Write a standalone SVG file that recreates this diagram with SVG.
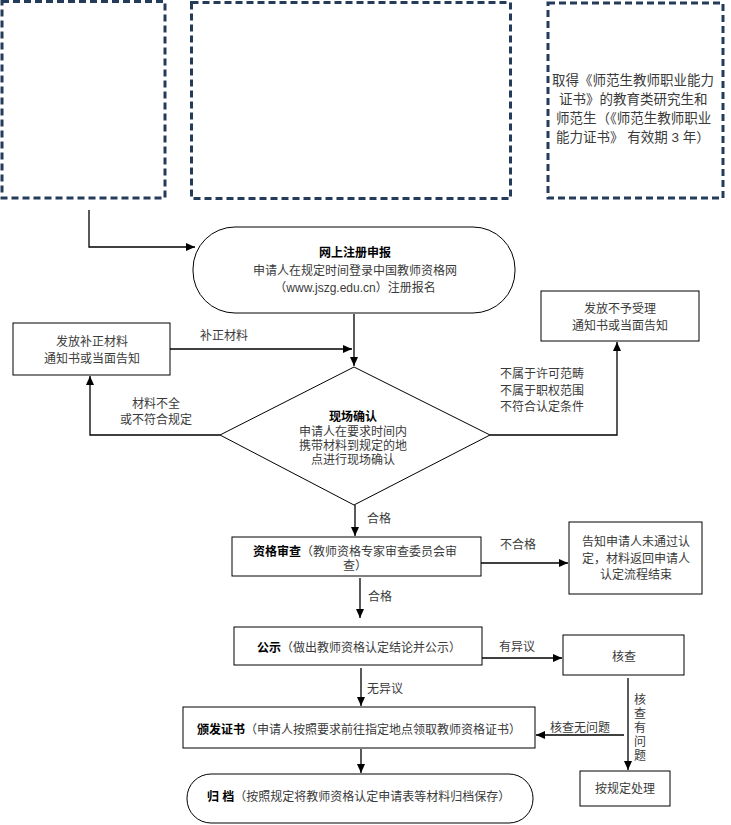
<svg xmlns="http://www.w3.org/2000/svg" width="731" height="825" viewBox="0 0 731 825">
<defs>
<marker id="ah" markerUnits="userSpaceOnUse" markerWidth="9" markerHeight="8" refX="9" refY="4" orient="auto">
<path d="M0,0 L9,4 L0,8 z" fill="#000"/>
</marker>
<style>
.dash{fill:#fff;stroke:#243b5a;stroke-width:3;stroke-dasharray:7 4}
.box{fill:#fff;stroke:#000;stroke-width:1}
.t{font-family:"Liberation Sans","Noto Sans CJK SC",sans-serif;font-size:12px;fill:#3a3a3a}
.b{font-weight:bold;fill:#000}
.m{text-anchor:middle}
.big{font-size:13.5px}
.c{fill:none;stroke:#000;stroke-width:1.3}
</style>
</defs>
<rect width="731" height="825" fill="#fff"/>

<g id="dash1"><rect class="dash" x="2" y="1.5" width="163" height="196.5"/></g>
<g id="dash2"><rect class="dash" x="191.5" y="2.5" width="319" height="196"/></g>
<g id="dash3">
<rect class="dash" x="548" y="3" width="175" height="195"/>
<text class="t big" x="552" y="85">取得《师范生教师职业能力</text>
<text class="t big" x="559" y="104">证书》的教育类研究生和</text>
<text class="t big" x="556" y="123">师范生（《师范生教师职业</text>
<text class="t big" x="556" y="142">能力证书》 有效期 3 年）</text>
</g>

<g id="register">
<rect class="box" x="193" y="227" width="322" height="86" rx="42" ry="42"/>
<text class="t b m" x="355" y="257">网上注册申报</text>
<text class="t m" x="355" y="275">申请人在规定时间登录中国教师资格网</text>
<text class="t m" x="355" y="292">（www.jszg.edu.cn）注册报名</text>
</g>

<g id="supplement">
<rect class="box" x="13" y="323" width="157" height="52"/>
<text class="t m" x="92" y="346">发放补正材料</text>
<text class="t m" x="92" y="363">通知书或当面告知</text>
</g>

<g id="reject">
<rect class="box" x="541" y="291" width="158" height="50"/>
<text class="t m" x="620" y="313">发放不予受理</text>
<text class="t m" x="620" y="330">通知书或当面告知</text>
</g>

<g id="confirm">
<polygon class="box" points="354,367 490,435 354,505 220,435"/>
<text class="t b m" x="353" y="421">现场确认</text>
<text class="t m" x="353" y="436">申请人在要求时间内</text>
<text class="t m" x="353" y="450">携带材料到规定的地</text>
<text class="t m" x="353" y="464">点进行现场确认</text>
</g>

<g id="review">
<rect class="box" x="232" y="537" width="249" height="39"/>
<text class="t" x="253" y="556"><tspan class="b">资格审查</tspan>（教师资格专家审查委员会审</text>
<text class="t" x="343" y="570">查）</text>
</g>

<g id="fail">
<rect class="box" x="569" y="522" width="133" height="72"/>
<text class="t m" x="636" y="546">告知申请人未通过认</text>
<text class="t m" x="636" y="563">定，材料返回申请人</text>
<text class="t m" x="636" y="579">认定流程结束</text>
</g>

<g id="publicity">
<rect class="box" x="234" y="627" width="248" height="38"/>
<text class="t" x="257" y="652"><tspan class="b">公示</tspan>（做出教师资格认定结论并公示）</text>
</g>

<g id="verify">
<rect class="box" x="563" y="635" width="121" height="40"/>
<text class="t m" x="624" y="661">核查</text>
</g>

<g id="issue">
<rect class="box" x="183" y="707" width="352" height="41"/>
<text class="t" x="197" y="734"><tspan class="b">颁发证书</tspan>（申请人按照要求前往指定地点领取教师资格证书）</text>
</g>

<g id="handle">
<rect class="box" x="580" y="771" width="90" height="35"/>
<text class="t m" x="625" y="793">按规定处理</text>
</g>

<g id="archive">
<rect class="box" x="187" y="774" width="346" height="49" rx="24" ry="24"/>
<text class="t" x="207" y="801"><tspan class="b">归 档</tspan>（按照规定将教师资格认定申请表等材料归档保存）</text>
</g>

<g id="connectors">
<path class="c" d="M89,210 V247 H195" marker-end="url(#ah)"/>
<path class="c" d="M354,314 V366" marker-end="url(#ah)"/>
<path class="c" d="M170,349 H352" marker-end="url(#ah)"/>
<path class="c" d="M220,435 H90 V376" marker-end="url(#ah)"/>
<path class="c" d="M490,435 H617 V342" marker-end="url(#ah)"/>
<path class="c" d="M355,505 V536" marker-end="url(#ah)"/>
<path class="c" d="M481,563 H568" marker-end="url(#ah)"/>
<path class="c" d="M360,578 V618" marker-end="url(#ah)"/>
<path class="c" d="M482,658 H562" marker-end="url(#ah)"/>
<path class="c" d="M361,668 V706" marker-end="url(#ah)"/>
<path class="c" d="M628,678 V770" marker-end="url(#ah)"/>
<path class="c" d="M624,735 H536" marker-end="url(#ah)"/>
<path class="c" d="M361,749 V773" marker-end="url(#ah)"/>
<text class="t" x="200" y="340">补正材料</text>
<text class="t m" x="156" y="408">材料不全</text>
<text class="t m" x="156" y="424">或不符合规定</text>
<text class="t" x="500" y="378">不属于许可范畴</text>
<text class="t" x="500" y="395">不属于职权范围</text>
<text class="t" x="500" y="411">不符合认定条件</text>
<text class="t" x="367" y="523">合格</text>
<text class="t" x="500" y="549">不合格</text>
<text class="t" x="368" y="601">合格</text>
<text class="t" x="499" y="651">有异议</text>
<text class="t" x="367" y="693">无异议</text>
<text class="t" x="550" y="732">核查无问题</text>
<text class="t m" x="640" y="704">核</text>
<text class="t m" x="640" y="718">查</text>
<text class="t m" x="640" y="732">有</text>
<text class="t m" x="640" y="746">问</text>
<text class="t m" x="640" y="760">题</text>
</g>
</svg>
